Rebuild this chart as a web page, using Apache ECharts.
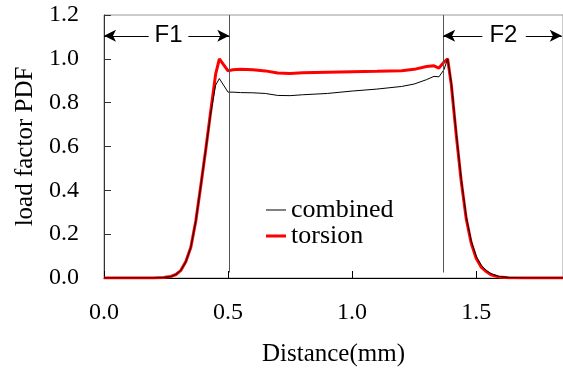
<!DOCTYPE html>
<html>
<head>
<meta charset="utf-8">
<script src="https://cdn.jsdelivr.net/npm/echarts@6/dist/echarts.min.js"></script>
<style>
  html, body { margin: 0; padding: 0; background: #fff; }
  #chart { width: 563px; height: 372px; }
</style>
</head>
<body>
<div id="chart"></div>
<script>
// values
const distance = [0, 0.1, 0.2, 0.24, 0.27, 0.29, 0.31, 0.33, 0.35, 0.37, 0.39, 0.41, 0.43, 0.45, 0.465,
  0.50, 0.52, 0.55, 0.60, 0.65, 0.70, 0.75, 0.80, 0.90, 1.00, 1.10, 1.20, 1.25, 1.30, 1.33, 1.35, 1.37,
  1.385, 1.40, 1.42, 1.44, 1.46, 1.48, 1.50, 1.52, 1.54, 1.56, 1.59, 1.63, 1.70, 1.85]
const combined = [0, 0, 0, 0.002, 0.007, 0.016, 0.035, 0.075, 0.14, 0.26, 0.42, 0.585, 0.75, 0.88, 0.91,
  0.848, 0.848, 0.846, 0.845, 0.842, 0.833, 0.832, 0.836, 0.842, 0.853, 0.862, 0.874, 0.885, 0.905, 0.92, 0.918, 0.95,
  1.0, 0.89, 0.66, 0.45, 0.28, 0.17, 0.10, 0.06, 0.035, 0.02, 0.008, 0.002, 0, 0]
const torsion = [0, 0, 0, 0.002, 0.007, 0.016, 0.035, 0.075, 0.14, 0.26, 0.42, 0.585, 0.76, 0.93, 1.0,
  0.945, 0.95, 0.952, 0.95, 0.945, 0.935, 0.933, 0.936, 0.939, 0.941, 0.943, 0.946, 0.952, 0.965, 0.968, 0.958, 0.985,
  1.0, 0.88, 0.65, 0.44, 0.27, 0.16, 0.09, 0.05, 0.03, 0.015, 0.005, 0.001, 0, 0]
const xTicks = [0, 0.5, 1.0, 1.5]
const yTicks = [0, 0.2, 0.4, 0.6, 0.8, 1.0, 1.2]
const zoneBounds = [0.505, 1.367]   // vertical dividers
const zoneLabels = ['F1', 'F2']
const arrowY = 1.105
const xMax = 1.85

const chart = echarts.init(document.getElementById('chart'))
const serif = 'Liberation Serif, Times New Roman, serif'
const sans = 'Liberation Sans, Arial, sans-serif'

function pairs(ys) {
  return distance.map((d, i) => [d, ys[i]])
}

// arrows for the F1 / F2 zones: tip at the boundary, gap in the middle for the text
const arrowSegs = [
  [[0, arrowY], [0.18, arrowY], 'start'],
  [[0.34, arrowY], [zoneBounds[0], arrowY], 'end'],
  [[zoneBounds[1], arrowY], [1.525, arrowY], 'start'],
  [[1.70, arrowY], [xMax - 0.005, arrowY], 'end']
]
const arrowLines = arrowSegs.map(s => [
  { coord: s[0], symbol: s[2] === 'start' ? 'arrow' : 'none', symbolSize: [9, 12] },
  { coord: s[1], symbol: s[2] === 'end' ? 'arrow' : 'none', symbolSize: [9, 12] }
])
const dividerLines = zoneBounds.map(b => [
  { coord: [b, 1.2], symbol: 'none' },
  { coord: [b, 0.025], symbol: 'none' }
])

chart.setOption({
  animation: false,
  grid: {
    left: 104, right: 0, top: 15, bottom: 92,
    show: true, borderColor: '#999', borderWidth: 1
  },
  legend: {
    orient: 'vertical',
    left: 261, top: 192,
    itemWidth: 20, itemHeight: 12, itemGap: 0,
    symbolKeepAspect: true,
    textStyle: { fontFamily: serif, fontSize: 26, lineHeight: 23, color: '#000' },
    data: [
      { name: 'combined', icon: 'path://M0,0H20V1H0Z' },
      { name: 'torsion', icon: 'path://M0,0H20V3H0Z' }
    ]
  },
  xAxis: {
    type: 'value', min: 0, max: xMax, interval: 0.5,
    name: 'Distance(mm)', nameLocation: 'middle', nameGap: 64,
    nameTextStyle: { fontFamily: serif, fontSize: 25, color: '#000' },
    axisLine: { lineStyle: { color: '#000', width: 1 } },
    axisTick: { inside: true, length: 7, lineStyle: { color: '#000' } },
    axisLabel: {
      fontFamily: serif, fontSize: 24, color: '#000', margin: 23, showMaxLabel: false,
      formatter: v => xTicks.includes(v) ? v.toFixed(1) : ''
    },
    splitLine: { show: false }
  },
  yAxis: {
    type: 'value', min: 0, max: 1.2, interval: 0.2,
    name: 'load factor PDF', nameLocation: 'middle', nameGap: 63, nameRotate: 90,
    nameTextStyle: { fontFamily: serif, fontSize: 25, color: '#000' },
    axisLine: { show: true, lineStyle: { color: '#333', width: 1 } },
    axisTick: { inside: true, length: 7, lineStyle: { color: '#333' } },
    axisLabel: {
      fontFamily: serif, fontSize: 24, color: '#000', margin: 25,
      formatter: v => yTicks.some(t => Math.abs(t - v) < 1e-9) ? v.toFixed(1) : ''
    },
    splitLine: { show: false }
  },
  series: [
    {
      name: 'combined', type: 'line', symbol: 'none', z: 3,
      data: pairs(combined),
      lineStyle: { color: '#000', width: 1 },
      itemStyle: { color: '#000' },
      markLine: {
        silent: true, animation: false,
        label: { show: false },
        lineStyle: { color: '#555', width: 1, type: 'solid' },
        data: dividerLines
      }
    },
    {
      name: 'torsion', type: 'line', symbol: 'none', z: 2,
      data: pairs(torsion),
      lineStyle: { color: '#ff0000', width: 3 },
      itemStyle: { color: '#ff0000' },
      markLine: {
        silent: true, animation: false,
        label: { show: false },
        lineStyle: { color: '#000', width: 1, type: 'solid' },
        itemStyle: { color: '#000' },
        data: arrowLines
      },
      markPoint: {
        silent: true, animation: false,
        symbol: 'circle', symbolSize: 0,
        label: {
          show: true, position: 'inside',
          fontFamily: sans, fontSize: 24, color: '#000',
          formatter: p => p.name
        },
        data: [
          { name: zoneLabels[0], coord: [0.26, arrowY] },
          { name: zoneLabels[1], coord: [1.61, arrowY] }
        ]
      }
    }
  ]
})
</script>
</body>
</html>
